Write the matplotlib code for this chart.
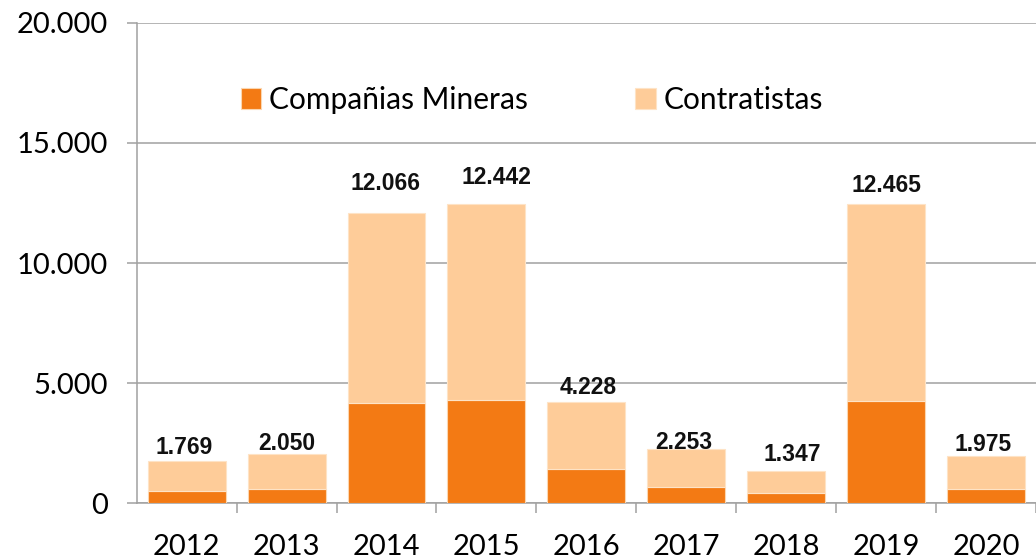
"""
Trabajadores en minería: compañías mineras y contratistas, 2012-2020.
"""

from matplotlib import pyplot as plt
import numpy as np

years = ["2012", "2013", "2014", "2015", "2016", "2017", "2018", "2019", "2020"]
mineras = [510, 610, 4160, 4300, 1415, 665, 440, 4270, 610]
contratistas = [1259, 1440, 7906, 8142, 2813, 1588, 907, 8195, 1365]
totales = [1769, 2050, 12066, 12442, 4228, 2253, 1347, 12465, 1975]
total_labels = ["1.769", "2.050", "12.066", "12.442", "4.228", "2.253", "1.347", "12.465", "1.975"]
y_ticks = [0, 5000, 10000, 15000, 20000]
y_tick_labels = ["0", "5.000", "10.000", "15.000", "20.000"]

DARK = "#F37A14"
LIGHT = "#FECC99"
FONT = "Lato"


def _main():
    fig = plt.figure(figsize=(10.36, 5.59), dpi=100)
    ax = fig.add_axes([136.7 / 1036, 1 - 503.3 / 559, 1 - 136.7 / 1036, (503.3 - 22.7) / 559])

    x = np.arange(len(years))
    ax.bar(x, mineras, width=0.78, color=DARK, edgecolor="#FBD6B0", linewidth=0.8,
           label="Compañias Mineras", zorder=3)
    ax.bar(x, contratistas, width=0.78, bottom=mineras, color=LIGHT, edgecolor="#FEE3C6",
           linewidth=0.8, label="Contratistas", zorder=3)

    # Etiquetas de totales (posiciones ajustadas a mano como en el original)
    dx = [-1.5, 0.5, -0.7, 7.2, 1.0, -1.5, 4.3, 0.0, -2.2]
    dy = [5.0, 2.6, 17.0, 14.4, 5.8, 0.0, 7.2, 8.4, 3.6]
    for i, lab in enumerate(total_labels):
        ax.annotate(lab, (x[i], totales[i]), xytext=(dx[i], dy[i]), textcoords="offset points",
                    ha="center", va="baseline", fontsize=16.5, fontweight="bold",
                    family="Liberation Sans", color="#111111", zorder=4)

    ax.set_xlim(-0.5, len(years) - 0.5)
    ax.set_ylim(0, 20000)

    ax.set_yticks(y_ticks)
    ax.set_yticklabels(y_tick_labels, family=FONT, fontsize=21)
    ax.yaxis.grid(True, color="#A0A0A0", linewidth=1.1)
    ax.set_axisbelow(True)
    ax.tick_params(axis="y", length=7.5, width=1.1, color="#A0A0A0", pad=13)

    ax.set_xticks(x)
    ax.set_xticklabels(years, family=FONT, fontsize=21)
    ax.set_xticks(np.arange(len(years)) + 0.5, minor=True)
    ax.tick_params(axis="x", which="major", length=0, pad=22)
    ax.tick_params(axis="x", which="minor", length=7.5, width=1.1, color="#A0A0A0")

    for side in ["top", "right"]:
        ax.spines[side].set_visible(False)
    for side in ["left", "bottom"]:
        ax.spines[side].set_color("#A0A0A0")
        ax.spines[side].set_linewidth(1.1)

    fig.legend(loc="center left", bbox_to_anchor=(241 / 1036, 1 - 100 / 559), ncol=2,
               frameon=False, borderpad=0, borderaxespad=0,
               prop={"family": FONT, "size": 21.5},
               handlelength=0.68, handleheight=0.68, handletextpad=0.26, columnspacing=3.6)

    fig.savefig("out.png", dpi=100)


if __name__ == "__main__":
    _main()
